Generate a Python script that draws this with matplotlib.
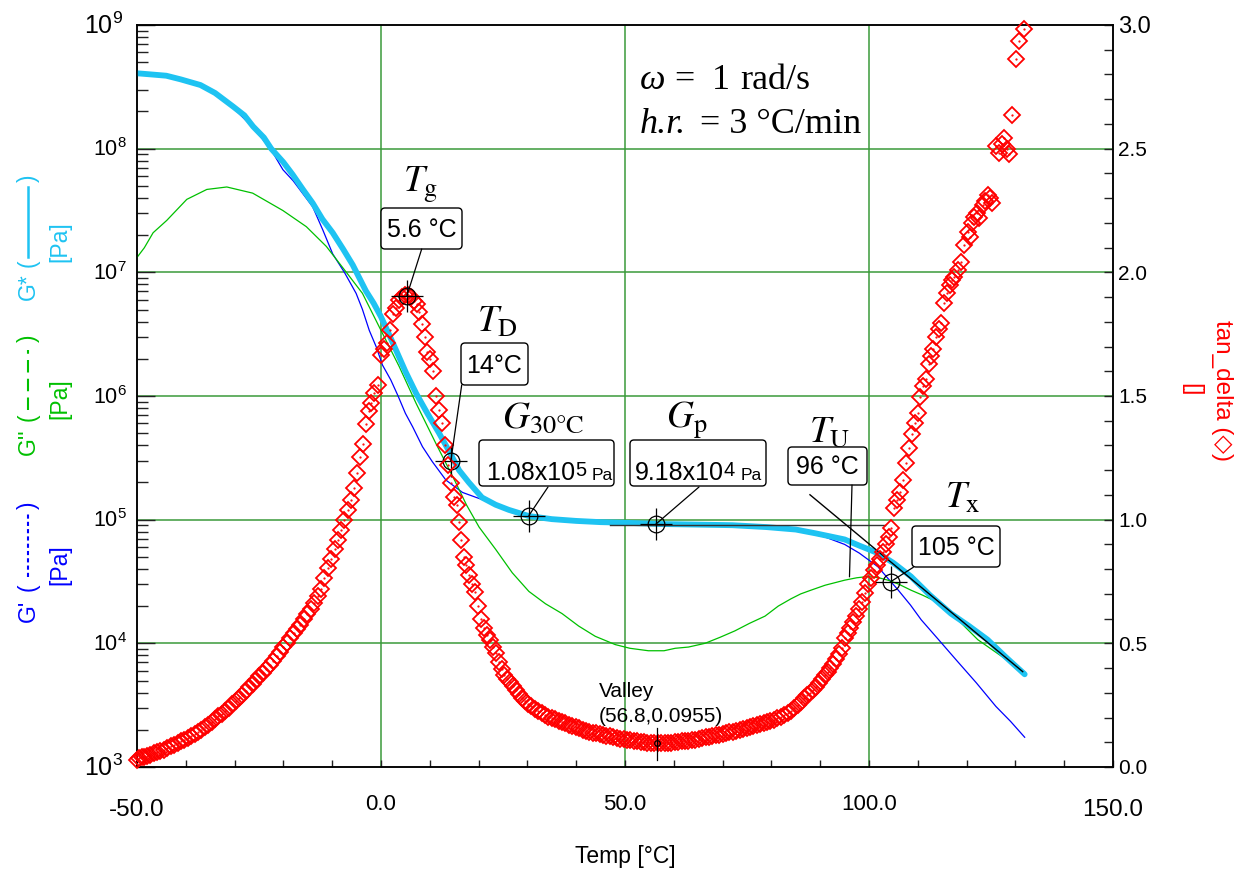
import numpy as np
import matplotlib
matplotlib.use('Agg')
import matplotlib.pyplot as plt
from matplotlib.patches import FancyBboxPatch, ConnectionPatch
from matplotlib.lines import Line2D
from matplotlib.transforms import IdentityTransform, ScaledTranslation, blended_transform_factory
from matplotlib.ticker import MultipleLocator, FixedLocator, NullFormatter, LogLocator

plt.rcParams['font.family'] = ['Liberation Sans', 'DejaVu Sans']
plt.rcParams['mathtext.fontset'] = 'custom'
plt.rcParams['mathtext.rm'] = 'Liberation Sans'
plt.rcParams['mathtext.it'] = 'Liberation Sans:italic'
plt.rcParams['mathtext.bf'] = 'Liberation Sans:bold'

# ---------------- data ----------------
temp_gp = [-50, -47, -44, -41, -37, -34, -30.3, -26.2, -22.5, -20.1, -18, -14, -11.9, -9.9, -7.5, -5.1, -3.8,
           -2.4, -1.0, 0.3, 2.0, 3.5, 5.0, 6.5, 8.5, 10.5, 13.3, 16.7, 20.8, 23.5, 26.5, 30, 35, 40, 45, 50,
           57, 65, 72, 78, 82, 85, 88, 91, 95, 98, 101.8, 104, 106, 108.5, 110.7, 114, 118, 122, 126, 129,
           131.9]
g_storage = [4.07e8, 3.98e8, 3.89e8, 3.63e8, 3.24e8, 2.75e8, 2.14e8, 1.48e8, 9.77e7, 6.76e7, 5.50e7, 3.39e7,
             2.19e7, 1.41e7, 1.0e7, 6.76e6, 5.01e6, 3.39e6, 2.51e6, 1.78e6, 1.35e6, 1.0e6, 7.24e5, 5.62e5,
             3.89e5, 2.95e5, 2.09e5, 1.66e5, 1.45e5, 1.32e5, 1.15e5, 1.08e5, 1.01e5, 9.77e4, 9.55e4, 9.44e4,
             9.23e4, 9.12e4, 9.02e4, 8.81e4, 8.51e4, 8.22e4, 7.76e4, 7.24e4, 6.31e4, 5.37e4, 4.17e4, 3.31e4,
             2.69e4, 2.04e4, 1.55e4, 1.10e4, 7.24e3, 4.79e3, 3.09e3, 2.34e3, 1.74e3]

temp_gpp = [-50, -48.5, -46.7, -43.9, -39.8, -35.7, -31.6, -26.3, -20.1, -15.3, -11.2, -7.1, -3.8, 0, 3.7,
            7.2, 11.2, 15.3, 17.5, 20.1, 23.5, 26.9, 30.3, 33.7, 37.1, 40.5, 43.9, 48, 51, 54.8, 58, 60.3, 63,
            66.4, 69.5, 72.5, 75.5, 78.7, 81.4, 84, 86, 88.1, 91, 95, 97.5, 99.8, 102, 103.9, 106, 108.6, 111,
            114.1, 118, 122.3, 127, 131.9]
g_loss = [1.32e7, 1.58e7, 2.09e7, 2.63e7, 3.89e7, 4.68e7, 4.90e7, 4.37e7, 3.16e7, 2.34e7, 1.62e7, 1.0e7,
          6.76e6, 3.39e6, 1.74e6, 8.71e5, 4.17e5, 2.0e5, 1.32e5, 8.71e4, 5.75e4, 3.72e4, 2.63e4, 2.09e4,
          1.74e4, 1.38e4, 1.14e4, 9.77e3, 9.12e3, 8.71e3, 8.71e3, 9.12e3, 9.33e3, 1.0e4, 1.12e4, 1.26e4,
          1.45e4, 1.66e4, 2.0e4, 2.29e4, 2.51e4, 2.69e4, 2.95e4, 3.24e4, 3.39e4, 3.47e4, 3.39e4, 3.24e4,
          3.02e4, 2.69e4, 2.45e4, 2.14e4, 1.58e4, 1.07e4, 7.94e3, 5.89e3]

temp_gs = [-50, -47, -44, -41, -37, -34, -30.3, -28, -26.2, -24, -22.5, -20, -18.1, -16, -14, -12, -9.9, -7.8,
           -5.8, -3.1, -1.5, 0, 1.5, 3.1, 5, 7.2, 9.5, 11.9, 14, 16, 18, 20.7, 23.5, 26.2, 30.3, 35, 40, 45,
           50, 57, 65, 72, 79, 85, 89, 92, 95, 98, 101.8, 105, 108.6, 112.5, 116.8, 120.5, 124.3, 128, 131.9]
g_complex = [4.07e8, 3.98e8, 3.89e8, 3.63e8, 3.27e8, 2.82e8, 2.19e8, 1.86e8, 1.51e8, 1.23e8, 1.0e8, 7.76e7,
             6.17e7, 4.68e7, 3.63e7, 2.69e7, 2.09e7, 1.55e7, 1.15e7, 7.08e6, 5.62e6, 4.37e6, 3.24e6, 2.34e6,
             1.58e6, 1.05e6, 7.24e5, 5.01e5, 3.55e5, 2.51e5, 2.0e5, 1.51e5, 1.32e5, 1.20e5, 1.07e5, 1.01e5,
             9.77e4, 9.55e4, 9.44e4, 9.23e4, 9.12e4, 9.02e4, 8.71e4, 8.32e4, 7.76e4, 7.33e4, 6.92e4, 6.17e4,
             5.37e4, 4.47e4, 3.47e4, 2.45e4, 1.74e4, 1.38e4, 1.07e4, 7.76e3, 5.62e3]

temp_tan = [-50.0, -49.5, -49.0, -48.5, -48.0, -47.3, -46.6, -45.9, -45.2, -44.5, -43.8, -43.1, -42.4, -41.7,
            -41.0, -40.3, -39.6, -38.9, -38.2, -37.5, -36.8, -36.1, -35.4, -34.7, -34.0, -33.3, -32.6, -31.9,
            -31.2, -30.5, -29.8, -29.1, -28.4, -27.7, -27.0, -26.3, -25.6, -24.9, -24.2, -23.5, -22.8, -22.1,
            -21.4, -20.7, -20.0, -19.3, -18.6, -17.9, -17.2, -16.5, -15.8, -15.1, -14.4, -13.7, -13.0, -12.3,
            -11.6, -10.9, -10.2, -9.5, -8.9, -8.2, -7.5, -6.8, -6.2, -5.5, -4.9, -4.3, -3.7, -3.1, -2.5, -2.0,
            -1.4, -0.7, 0.0, 0.6, 1.2, 1.9, 2.5, 3.1, 3.7, 4.3, 4.9, 5.5, 6.1, 6.7, 7.3, 7.8, 8.4, 9.0, 9.5,
            10.1, 10.7, 11.3, 11.9, 12.5, 13.1, 13.7, 14.3, 14.9, 15.5, 16.0, 16.4, 17.0, 17.5, 18.1, 18.7,
            19.3, 19.9, 20.5, 21.1, 21.7, 22.3, 22.9, 23.5, 24.1, 24.7, 25.3, 25.9, 26.5, 27.1, 27.7, 28.3,
            28.9, 29.5, 30.1, 30.8, 31.5, 32.2, 32.9, 33.6, 34.3, 35.0, 35.7, 36.4, 37.1, 37.8, 38.5, 39.2,
            39.9, 40.6, 41.3, 42.0, 42.7, 43.4, 44.1, 44.8, 45.5, 46.2, 46.9, 47.6, 48.3, 49.0, 49.7, 50.4,
            51.1, 51.8, 52.5, 53.2, 53.9, 54.6, 55.3, 56.0, 56.8, 57.4, 58.1, 58.8, 59.5, 60.2, 60.9, 61.6,
            62.3, 63.0, 63.7, 64.4, 65.1, 65.8, 66.5, 67.2, 67.9, 68.6, 69.3, 70.0, 70.7, 71.4, 72.1, 72.8,
            73.5, 74.2, 74.9, 75.6, 76.3, 77.0, 77.7, 78.4, 79.1, 79.8, 80.5, 81.2, 81.9, 82.6, 83.3, 84.0,
            84.7, 85.4, 86.1, 86.7, 87.3, 87.9, 88.5, 89.1, 89.7, 90.3, 90.9, 91.5, 92.1, 92.7, 93.3, 93.9,
            94.5, 95.0, 95.6, 96.2, 96.8, 97.4, 98.0, 98.6, 99.2, 99.8, 100.4, 101.0, 101.6, 102.2, 102.8,
            103.4, 104.0, 104.6, 105.2, 105.8, 106.4, 107.0, 107.6, 108.2, 108.8, 109.4, 110.0, 110.5, 111.1,
            111.6, 112.2, 112.7, 113.2, 113.8, 114.3, 114.8, 115.4, 116.0, 116.5, 117.0, 117.5, 118.2, 118.8,
            119.5, 120.2, 120.6, 121.2, 121.6, 122.2, 122.6, 123.3, 123.8, 124.3, 124.8, 125.3, 126.0, 126.7,
            127.2, 127.7, 128.2, 128.7, 129.4, 130.1, 130.8, 131.7]
tan_delta = [0.030, 0.035, 0.040, 0.042, 0.045, 0.050, 0.055, 0.060, 0.065, 0.070, 0.077, 0.083, 0.090, 0.097,
             0.104, 0.111, 0.118, 0.125, 0.132, 0.140, 0.150, 0.160, 0.170, 0.182, 0.194, 0.205, 0.216, 0.228,
             0.240, 0.253, 0.266, 0.279, 0.293, 0.307, 0.322, 0.337, 0.351, 0.366, 0.380, 0.397, 0.413, 0.430,
             0.448, 0.466, 0.484, 0.503, 0.522, 0.540, 0.557, 0.576, 0.597, 0.618, 0.640, 0.665, 0.690, 0.718,
             0.765, 0.805, 0.840, 0.880, 0.918, 0.960, 0.998, 1.040, 1.080, 1.128, 1.190, 1.255, 1.305, 1.385,
             1.440, 1.470, 1.511, 1.545, 1.666, 1.690, 1.713, 1.767, 1.830, 1.855, 1.888, 1.900, 1.909, 1.910,
             1.900, 1.885, 1.870, 1.841, 1.790, 1.740, 1.679, 1.650, 1.600, 1.500, 1.444, 1.390, 1.300, 1.220,
             1.150, 1.090, 1.060, 0.992, 0.918, 0.850, 0.815, 0.775, 0.740, 0.709, 0.650, 0.600, 0.561, 0.535,
             0.512, 0.485, 0.462, 0.425, 0.395, 0.372, 0.357, 0.343, 0.328, 0.312, 0.295, 0.278, 0.266, 0.255,
             0.245, 0.235, 0.226, 0.218, 0.210, 0.204, 0.199, 0.194, 0.188, 0.183, 0.177, 0.171, 0.166, 0.160,
             0.156, 0.151, 0.147, 0.143, 0.139, 0.136, 0.133, 0.130, 0.127, 0.124, 0.121, 0.118, 0.115, 0.112,
             0.110, 0.108, 0.106, 0.104, 0.102, 0.100, 0.099, 0.097, 0.096, 0.0955, 0.096, 0.097, 0.098, 0.099,
             0.101, 0.102, 0.104, 0.105, 0.107, 0.109, 0.111, 0.114, 0.117, 0.120, 0.123, 0.126, 0.129, 0.131,
             0.134, 0.137, 0.140, 0.143, 0.146, 0.150, 0.154, 0.158, 0.161, 0.165, 0.169, 0.173, 0.178, 0.182,
             0.187, 0.192, 0.198, 0.204, 0.210, 0.218, 0.228, 0.238, 0.250, 0.263, 0.278, 0.290, 0.300, 0.311,
             0.325, 0.340, 0.355, 0.370, 0.385, 0.400, 0.415, 0.435, 0.455, 0.480, 0.520, 0.540, 0.560, 0.585,
             0.610, 0.638, 0.668, 0.705, 0.740, 0.765, 0.795, 0.818, 0.840, 0.870, 0.900, 0.930, 0.965, 1.046,
             1.080, 1.110, 1.160, 1.230, 1.290, 1.345, 1.390, 1.430, 1.497, 1.540, 1.567, 1.630, 1.660, 1.689,
             1.740, 1.770, 1.797, 1.875, 1.915, 1.949, 1.970, 1.983, 2.010, 2.043, 2.111, 2.165, 2.144, 2.200,
             2.225, 2.240, 2.219, 2.273, 2.290, 2.313, 2.300, 2.279, 2.511, 2.481, 2.520, 2.542, 2.500, 2.479,
             2.636, 2.862, 2.937, 2.983]

left_decades = [3, 4, 5, 6, 7, 8, 9]
x_ticks = [-50, 0, 50, 100, 150]
x_labels = ['-50.0', '0.0', '50.0', '100.0', '150.0']
right_ticks = [0.0, 0.5, 1.0, 1.5, 2.0, 2.5, 3.0]
right_labels = ['0.0', '0.5', '1.0', '1.5', '2.0', '2.5', '3.0']

# key points
tg_point = (5.3, 1.905)
td_point = (14.3, 2.96e5)
g30_point = (30.3, 1.08e5)
gp_point = (56.3, 9.18e4)
tx_point = (104.5, 3.16e4)
valley_point = (56.5, 0.0955)
plateau_line = ([47.0, 103.3], [9.0e4, 9.0e4])
tangent_line = ([87.9, 131.5], [1.59e5, 5.9e3])
tu_foot = (96.0, 3.45e4)

# ---------------- figure ----------------
W, H = 1242, 871
fig = plt.figure(figsize=(W / 100, H / 100), dpi=100)
L, R, T, B = 137, 1113, 25, 767
ax = fig.add_axes([L / W, 1 - B / H, (R - L) / W, (B - T) / H])
ax2 = ax.twinx()

def fp(x, y):
    return (x, H - y)

GRID = '#3a9a3a'
CYAN = '#1ec3f2'
BLUE = '#0000ff'
GREEN = '#00c000'
RED = '#ff0000'
SERIF = ['Liberation Serif', 'DejaVu Serif']

ax.set_xlim(-50, 150)
ax.set_yscale('log')
ax.set_ylim(1e3, 1e9)
ax2.set_ylim(0, 3.0)

ax.plot(temp_gp, g_storage, color=BLUE, lw=0.9, zorder=3)
ax.plot(temp_gpp, g_loss, color=GREEN, lw=0.9, zorder=3)
ax.plot(temp_gs, g_complex, color=CYAN, lw=4.2, solid_capstyle='round', solid_joinstyle='round', zorder=3.5)

ax2.plot(temp_tan, tan_delta, linestyle='none', marker='D', markersize=8.2, markerfacecolor='none',
         markeredgecolor=RED, markeredgewidth=1.3, clip_on=False, zorder=3)
ax2.plot(temp_tan, tan_delta, linestyle='none', marker='.', markersize=1.2, color=RED, clip_on=False, zorder=3)

# grid
ax.xaxis.set_major_locator(FixedLocator([-50, 0, 50, 100, 150]))
ax.xaxis.set_minor_locator(MultipleLocator(10))
ax.yaxis.set_major_locator(FixedLocator([10.0 ** d for d in left_decades]))
ax.yaxis.set_minor_locator(LogLocator(base=10, subs=np.arange(2, 10)))
for a in (ax, ax2):
    a.xaxis.set_major_formatter(NullFormatter())
    a.xaxis.set_minor_formatter(NullFormatter())
    a.yaxis.set_major_formatter(NullFormatter())
    a.yaxis.set_minor_formatter(NullFormatter())
for xv in [0, 50, 100]:
    ax.axvline(xv, color=GRID, lw=1.1, zorder=1)
for d in [4, 5, 6, 7, 8]:
    ax.axhline(10.0 ** d, color=GRID, lw=1.1, zorder=1)

ax.tick_params(axis='x', which='both', direction='in', length=5, width=1, color='#222222', top=False)
ax.tick_params(axis='y', which='major', direction='in', length=13, width=1, color='#222222')
ax.tick_params(axis='y', which='minor', direction='in', length=8, width=1, color='#222222')
ax2.yaxis.set_major_locator(MultipleLocator(0.5))
ax2.yaxis.set_minor_locator(MultipleLocator(0.1))
ax2.tick_params(axis='y', which='both', direction='in', length=6.5, width=1, color='#222222')
for a in (ax, ax2):
    for s in a.spines.values():
        s.set_color('black')
        s.set_linewidth(1.1)

# tick labels (manual, pixel offsets)
def off(dx, dy):
    return ScaledTranslation(dx / 100, dy / 100, fig.dpi_scale_trans)

tl = blended_transform_factory(ax.transAxes, ax.transData)
for d in left_decades:
    big = d in (3, 9)
    fs = 18 if big else 15.5
    dx = -14 if big else -10
    ax.text(0, 10.0 ** d, r'$10^{%d}$' % d, fontsize=fs, ha='right', va='baseline',
            transform=tl + off(dx, -0.358 * fs / 0.72), clip_on=False)
tb = blended_transform_factory(ax.transData, ax.transAxes)
for xv, lab in zip(x_ticks, x_labels):
    big = xv in (-50, 150)
    fs = 17.5 if big else 16
    dy = -43 if big else -37
    ax.text(xv, 0, lab, fontsize=fs, ha='center', va='center', transform=tb + off(0, dy), clip_on=False)
tr = blended_transform_factory(ax2.transAxes, ax2.transData)
for yv, lab in zip(right_ticks, right_labels):
    fs = 17 if yv == 3.0 else 15
    ax2.text(1, yv, lab, fontsize=fs, ha='left', va='baseline',
             transform=tr + off(5, -0.358 * fs / 0.72), clip_on=False)

# axis titles
fig.text(625 / W, 1 - 856 / H, 'Temp [°C]', fontsize=16.5, ha='center', va='center')

def vtext(x, y, s, color, fs=16.5):
    fig.text(x / W, 1 - y / H, s, fontsize=fs, color=color, rotation=90, ha='center', va='center')

vtext(28, 611, "G'", BLUE)
vtext(28, 587, '(', BLUE)
vtext(28, 505, ')', BLUE)
fig.add_artist(Line2D([28 / W, 28 / W], [1 - 577 / H, 1 - 513 / H], color=BLUE, lw=1.5, linestyle=(0, (2, 1.5))))
vtext(60, 565, '[Pa]', BLUE)

vtext(28, 442, "G''", GREEN)
vtext(28, 417, '(', GREEN)
vtext(28, 338, ')', GREEN)
fig.add_artist(Line2D([28 / W, 28 / W], [1 - 410 / H, 1 - 350 / H], color=GREEN, lw=1.5, linestyle=(0, (6, 3))))
vtext(60, 399, '[Pa]', GREEN)

vtext(28, 287, 'G*', CYAN)
vtext(28, 263, '(', CYAN)
vtext(28, 178, ')', CYAN)
fig.add_artist(Line2D([28 / W, 28 / W], [1 - 257 / H, 1 - 187 / H], color=CYAN, lw=1.8))
vtext(60, 242, '[Pa]', CYAN)

fig.text(1222 / W, 1 - 390 / H, 'tan_delta (◇)', fontsize=17.5, color=RED, rotation=270,
         ha='center', va='center', family=['Liberation Sans', 'DejaVu Sans'])
fig.text(1191 / W, 1 - 390 / H, '[]', fontsize=17.5, color=RED, rotation=270, ha='center', va='center')

# conditions text
def stext(x, y, s, fs=26, style='normal'):
    fig.text(x / W, 1 - y / H, s, fontsize=fs, family=SERIF, style=style, ha='left', va='baseline')

stext(640, 89, 'ω', style='italic')
stext(674, 89, '=')
stext(712, 89, '1')
stext(740, 89, 'rad/s')
stext(640, 133, 'h.r.', style='italic')
stext(700, 133, '= 3 °C/min')

# annotation labels
def mlab(x, y, s):
    fig.text(x / W, 1 - y / H, s, fontsize=27, math_fontfamily='stix', ha='center', va='baseline')

mlab(421, 191.7, r'$T_{\mathrm{g}}$')
mlab(497, 331.7, r'$T_{\mathrm{D}}$')
mlab(543, 428, r'$G_{\mathrm{30°C}}$')
mlab(687, 428, r'$G_{\mathrm{p}}$')
mlab(830, 441.7, r'$T_{\mathrm{U}}$')
mlab(963, 508, r'$T_{\mathrm{x}}$')

def box(x0, y0, x1, y1):
    p = FancyBboxPatch((x0, H - y1), x1 - x0, y1 - y0, boxstyle='round,pad=0,rounding_size=4',
                       transform=IdentityTransform(), facecolor='white', edgecolor='black', lw=1.0, zorder=4)
    fig.add_artist(p)

def btext(x, y, s, fs=18, ha='center'):
    fig.text(x / W, 1 - y / H, s, fontsize=fs, ha=ha, va='baseline', zorder=5)

box(381, 208, 462, 249)
btext(421.5, 237, '5.6 °C')
box(461, 343, 528, 385)
btext(494.5, 373, '14°C')
box(479, 440, 614, 486)
btext(486, 480, '1.08x10', ha='left')
btext(575, 476, '5', fs=14.5, ha='left')
btext(592, 480, 'Pa', fs=12.5, ha='left')
box(630, 440, 766, 486)
btext(635, 480, '9.18x10', ha='left')
btext(724, 476, '4', fs=14.5, ha='left')
btext(741, 480, 'Pa', fs=12.5, ha='left')
box(788, 447, 867, 485)
btext(827.5, 474, '96 °C')
box(912, 526, 1000, 567)
btext(956, 555, '105 °C')

# leader lines (from box to point)
def leader(xy_px, point, axes):
    c = ConnectionPatch(xyA=fp(*xy_px), coordsA='figure pixels', xyB=point, coordsB=axes.transData,
                        color='black', lw=0.9, zorder=6)
    fig.add_artist(c)

leader((421.7, 249), tg_point, ax2)
leader((461.7, 385), td_point, ax)
leader((548, 487), g30_point, ax)
leader((699, 487), gp_point, ax)
leader((913.3, 567.3), tx_point, ax)
leader((852, 485), tu_foot, ax)

# construction lines
ax.plot(*plateau_line, color='#333333', lw=1.0, zorder=5)
ax.plot(*tangent_line, color='black', lw=1.0, zorder=5)

# markers
for (px, py), a in [(tg_point, ax2), (td_point, ax), (g30_point, ax), (gp_point, ax), (tx_point, ax)]:
    a.plot([px], [py], marker='o', markersize=12, markerfacecolor='none', markeredgecolor='black',
           markeredgewidth=0.9, zorder=7, clip_on=False)
    a.plot([px], [py], marker='+', markersize=23, markeredgecolor='black', markeredgewidth=0.9, zorder=7,
           clip_on=False)
ax2.plot([valley_point[0]], [valley_point[1]], marker='o', markersize=4, markerfacecolor='none',
         markeredgecolor='black', markeredgewidth=0.9, zorder=7)
ax2.plot([valley_point[0], valley_point[0]], [0.028, 0.158], color='black', lw=0.9, zorder=7)
fig.text(599 / W, 1 - 697 / H, 'Valley', fontsize=15, ha='left', va='baseline')
fig.text(599 / W, 1 - 722 / H, '(56.8,0.0955)', fontsize=15, ha='left', va='baseline')

fig.savefig('out.png', dpi=100)
